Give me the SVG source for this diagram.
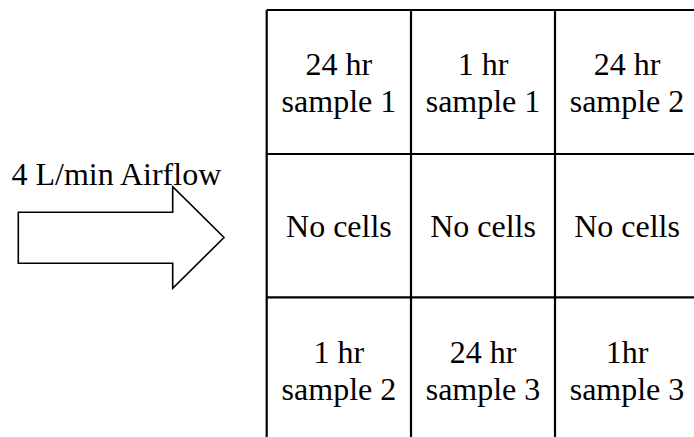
<svg xmlns="http://www.w3.org/2000/svg" width="694" height="437" viewBox="0 0 694 437">
  <style>
    .grid { fill: none; stroke: #000; stroke-width: 2.2; }
    .arrow { fill: #fff; stroke: #000; stroke-width: 1.6; stroke-linejoin: miter; }
    text { font-family: "Liberation Serif", "Times New Roman", serif; font-size: 32px; fill: #000; }
    .c { text-anchor: middle; }
  </style>
  <rect width="694" height="437" fill="#fff"/>

  <!-- airflow arrow with its label -->
  <g id="airflow">
    <text x="11.5" y="185">4 L/min Airflow</text>
    <polygon class="arrow" points="18.3,212.3 172.7,212.3 172.7,186.7 224,237.5 172.7,288.3 172.7,263.3 18.3,263.3"/>
  </g>

  <!-- sample grid: 3 columns x 3 rows, right and bottom edges run past the frame -->
  <g id="grid">
    <path class="grid" d="M266.7,10 H700 M266.7,154 H700 M266.7,297.3 H700 M266.7,441 H700 M266.7,10 V441 M411,10 V441 M555,10 V441 M699.3,10 V441"/>
  </g>

  <g id="cell-r1c1"><text class="c" x="338.9" y="75">24 hr</text><text class="c" x="338.9" y="111.7">sample 1</text></g>
  <g id="cell-r1c2"><text class="c" x="483" y="75">1 hr</text><text class="c" x="483" y="111.7">sample 1</text></g>
  <g id="cell-r1c3"><text class="c" x="627" y="75">24 hr</text><text class="c" x="627" y="111.7">sample 2</text></g>

  <g id="cell-r2c1"><text class="c" x="338.9" y="237.3">No cells</text></g>
  <g id="cell-r2c2"><text class="c" x="483" y="237.3">No cells</text></g>
  <g id="cell-r2c3"><text class="c" x="627" y="237.3">No cells</text></g>

  <g id="cell-r3c1"><text class="c" x="338.9" y="363.3">1 hr</text><text class="c" x="338.9" y="400">sample 2</text></g>
  <g id="cell-r3c2"><text class="c" x="483" y="363.3">24 hr</text><text class="c" x="483" y="400">sample 3</text></g>
  <g id="cell-r3c3"><text class="c" x="627" y="363.3">1hr</text><text class="c" x="627" y="400">sample 3</text></g>
</svg>
